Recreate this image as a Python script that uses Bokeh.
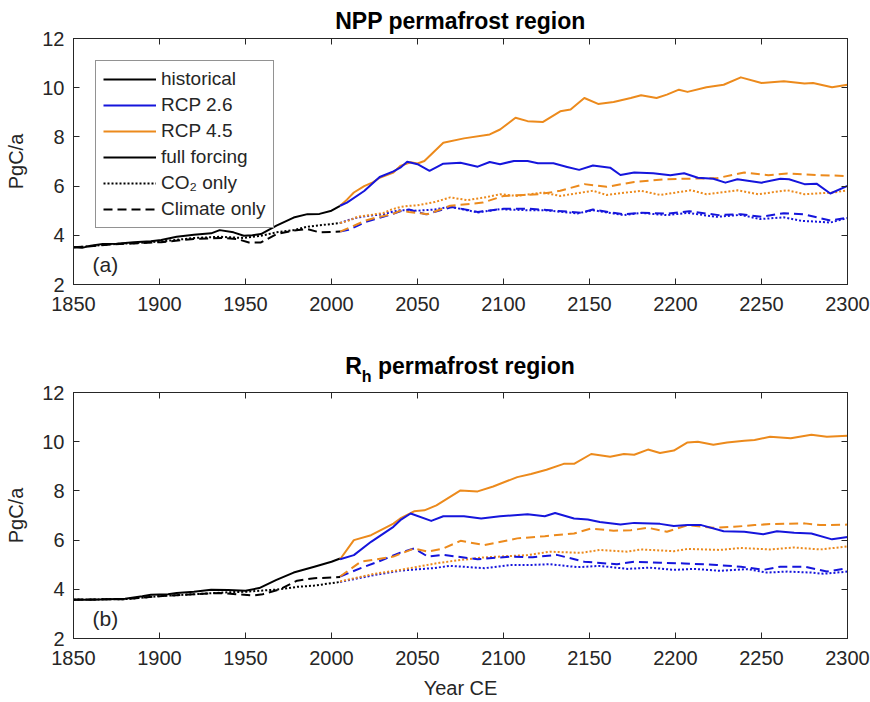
from bokeh.plotting import figure
from bokeh.models import Range1d, LinearAxis, Label, Legend, LegendItem, FixedTicker, Div
from bokeh.layouts import column
from bokeh.embed import file_html
from bokeh.resources import INLINE

# ---------------- data ----------------
x_ticks = [1850, 1900, 1950, 2000, 2050, 2100, 2150, 2200, 2250, 2300]
y_ticks = [2, 4, 6, 8, 10, 12]

# NPP (panel a) - historical
npp_hist_full_yr = [1850, 1855, 1860, 1867, 1875, 1885, 1895, 1901, 1910, 1920, 1930, 1935, 1943, 1949, 1954, 1959, 1968, 1978, 1986, 1993, 2000, 2005]
npp_hist_full = [3.51, 3.49, 3.58, 3.65, 3.66, 3.72, 3.76, 3.81, 3.94, 4.02, 4.08, 4.21, 4.12, 3.98, 4.0, 4.05, 4.39, 4.72, 4.86, 4.87, 5.0, 5.2]
npp_hist_co2_yr = [1850, 1860, 1870, 1885, 1901, 1920, 1935, 1949, 1959, 1968, 1978, 1986, 1995, 2005]
npp_hist_co2 = [3.51, 3.56, 3.63, 3.68, 3.75, 3.89, 3.94, 3.89, 3.98, 4.12, 4.21, 4.35, 4.42, 4.5]
npp_hist_clim_yr = [1850, 1860, 1870, 1885, 1901, 1920, 1937, 1945, 1952, 1959, 1968, 1978, 1986, 1993, 2005]
npp_hist_clim = [3.51, 3.55, 3.62, 3.67, 3.72, 3.85, 3.89, 3.85, 3.71, 3.71, 4.05, 4.19, 4.25, 4.12, 4.15]

# NPP - RCP 2.6
npp26_full_yr = [2005, 2009, 2019, 2028, 2036, 2040, 2044, 2050, 2057, 2065, 2075, 2085, 2092, 2098, 2106, 2114, 2120, 2129, 2137, 2144, 2152, 2162, 2168, 2176, 2187, 2197, 2205, 2213, 2222, 2229, 2236, 2246, 2250, 2261, 2266, 2275, 2282, 2290, 2300]
npp26_full = [5.2, 5.33, 5.8, 6.37, 6.6, 6.75, 6.99, 6.89, 6.62, 6.91, 6.95, 6.79, 6.98, 6.89, 7.02, 7.02, 6.93, 6.93, 6.78, 6.66, 6.84, 6.75, 6.45, 6.55, 6.52, 6.44, 6.52, 6.34, 6.3, 6.14, 6.28, 6.18, 6.14, 6.3, 6.28, 6.08, 6.1, 5.7, 6.01]
npp26_co2_yr = [2005, 2010, 2015, 2020, 2025, 2030, 2035, 2040, 2050, 2060, 2069, 2085, 2098, 2114, 2124, 2143, 2152, 2170, 2180, 2195, 2207, 2224, 2238, 2249, 2263, 2273, 2290, 2300]
npp26_co2 = [4.5, 4.62, 4.72, 4.78, 4.82, 4.85, 4.95, 5.02, 5.0, 5.05, 5.16, 4.93, 5.06, 5.02, 5.02, 4.89, 5.02, 4.82, 4.91, 4.82, 4.91, 4.75, 4.83, 4.66, 4.73, 4.59, 4.52, 4.7]
npp26_clim_yr = [2005, 2010, 2015, 2020, 2025, 2030, 2035, 2040, 2045, 2055, 2070, 2085, 2100, 2115, 2130, 2145, 2152, 2170, 2180, 2195, 2208, 2225, 2238, 2250, 2263, 2275, 2290, 2300]
npp26_clim = [4.15, 4.22, 4.38, 4.55, 4.65, 4.75, 4.85, 4.98, 5.05, 4.85, 5.15, 4.95, 5.08, 5.08, 5.0, 4.92, 5.05, 4.85, 4.92, 4.88, 4.98, 4.82, 4.86, 4.75, 4.9, 4.85, 4.6, 4.72]

# NPP - RCP 4.5
npp45_full_yr = [2005, 2009, 2013, 2019, 2024, 2028, 2036, 2040, 2046, 2050, 2054, 2065, 2077, 2092, 2098, 2107, 2114, 2123, 2133, 2139, 2147, 2155, 2164, 2174, 2180, 2189, 2195, 2202, 2207, 2218, 2228, 2238, 2250, 2263, 2275, 2280, 2291, 2300]
npp45_full = [5.2, 5.45, 5.74, 6.0, 6.15, 6.34, 6.55, 6.82, 6.97, 6.92, 7.02, 7.76, 7.94, 8.1, 8.3, 8.78, 8.64, 8.61, 9.04, 9.11, 9.58, 9.34, 9.42, 9.58, 9.69, 9.58, 9.72, 9.92, 9.83, 10.02, 10.12, 10.42, 10.19, 10.26, 10.17, 10.19, 10.02, 10.12]
npp45_co2_yr = [2005, 2010, 2015, 2020, 2025, 2030, 2035, 2040, 2045, 2050, 2060, 2069, 2079, 2090, 2098, 2108, 2123, 2133, 2152, 2160, 2180, 2191, 2209, 2218, 2236, 2248, 2265, 2275, 2292, 2300]
npp45_co2 = [4.5, 4.6, 4.75, 4.8, 4.85, 4.9, 5.05, 5.15, 5.2, 5.22, 5.35, 5.54, 5.43, 5.55, 5.67, 5.6, 5.74, 5.6, 5.81, 5.64, 5.81, 5.64, 5.83, 5.67, 5.83, 5.67, 5.83, 5.67, 5.74, 5.83]
npp45_clim_yr = [2005, 2010, 2015, 2020, 2025, 2030, 2035, 2040, 2045, 2056, 2069, 2088, 2100, 2121, 2133, 2147, 2160, 2176, 2195, 2207, 2224, 2240, 2254, 2265, 2282, 2300]
npp45_clim = [4.15, 4.3, 4.45, 4.6, 4.7, 4.78, 4.85, 5.0, 4.95, 4.86, 5.2, 5.33, 5.6, 5.67, 5.81, 6.08, 5.97, 6.17, 6.28, 6.3, 6.32, 6.55, 6.44, 6.51, 6.45, 6.41]

# Rh (panel b) - historical
rh_hist_full_yr = [1850, 1860, 1870, 1880, 1890, 1895, 1905, 1910, 1920, 1930, 1940, 1950, 1958, 1968, 1978, 1990, 2000, 2005]
rh_hist_full = [3.58, 3.58, 3.6, 3.62, 3.72, 3.78, 3.8, 3.85, 3.9, 3.98, 3.97, 3.94, 4.05, 4.38, 4.68, 4.92, 5.12, 5.25]
rh_hist_co2_yr = [1850, 1880, 1900, 1920, 1940, 1950, 1960, 1970, 1980, 1990, 2000, 2005]
rh_hist_co2 = [3.58, 3.6, 3.72, 3.8, 3.88, 3.9, 3.95, 4.0, 4.1, 4.15, 4.25, 4.3]
rh_hist_clim_yr = [1850, 1880, 1900, 1920, 1935, 1945, 1955, 1960, 1970, 1980, 1990, 2000, 2005]
rh_hist_clim = [3.58, 3.6, 3.72, 3.8, 3.85, 3.8, 3.75, 3.8, 4.0, 4.35, 4.45, 4.48, 4.5]

# Rh - RCP 2.6
rh26_full_yr = [2005, 2013, 2023, 2036, 2040, 2046, 2058, 2065, 2077, 2087, 2098, 2114, 2124, 2130, 2141, 2149, 2156, 2168, 2176, 2191, 2199, 2207, 2215, 2228, 2240, 2251, 2259, 2269, 2279, 2291, 2300]
rh26_full = [5.22, 5.39, 5.93, 6.54, 6.81, 7.08, 6.78, 6.97, 6.97, 6.88, 6.97, 7.05, 6.97, 7.1, 6.88, 6.84, 6.74, 6.63, 6.7, 6.66, 6.57, 6.61, 6.61, 6.36, 6.34, 6.24, 6.36, 6.3, 6.27, 6.03, 6.13]
rh26_co2_yr = [2005, 2025, 2040, 2059, 2069, 2089, 2104, 2117, 2127, 2143, 2156, 2172, 2185, 2199, 2211, 2226, 2242, 2253, 2265, 2279, 2286, 2300]
rh26_co2 = [4.3, 4.58, 4.76, 4.86, 4.95, 4.86, 4.99, 4.99, 5.02, 4.9, 4.95, 4.83, 4.88, 4.79, 4.83, 4.75, 4.82, 4.68, 4.72, 4.68, 4.63, 4.72]
rh26_clim_yr = [2005, 2017, 2027, 2040, 2048, 2056, 2065, 2085, 2104, 2117, 2131, 2147, 2166, 2176, 2191, 2205, 2224, 2238, 2251, 2261, 2275, 2288, 2300]
rh26_clim = [4.52, 4.86, 5.12, 5.49, 5.66, 5.33, 5.4, 5.22, 5.33, 5.3, 5.4, 5.12, 5.02, 5.12, 5.08, 5.05, 4.99, 4.92, 4.79, 4.92, 4.92, 4.72, 4.86]

# Rh - RCP 4.5
rh45_full_yr = [2005, 2013, 2023, 2036, 2040, 2048, 2054, 2061, 2075, 2085, 2094, 2108, 2116, 2125, 2135, 2141, 2151, 2162, 2170, 2176, 2184, 2191, 2199, 2207, 2213, 2222, 2230, 2240, 2246, 2255, 2267, 2279, 2288, 2300]
rh45_full = [5.22, 6.0, 6.2, 6.67, 6.88, 7.17, 7.21, 7.41, 8.02, 7.98, 8.18, 8.56, 8.69, 8.86, 9.1, 9.1, 9.5, 9.39, 9.5, 9.47, 9.68, 9.54, 9.64, 9.97, 10.0, 9.88, 9.97, 10.04, 10.07, 10.2, 10.14, 10.28, 10.2, 10.24]
rh45_co2_yr = [2005, 2025, 2040, 2063, 2075, 2089, 2114, 2127, 2145, 2156, 2172, 2180, 2199, 2207, 2226, 2238, 2255, 2269, 2284, 2300]
rh45_co2 = [4.32, 4.63, 4.79, 5.08, 5.19, 5.3, 5.39, 5.53, 5.48, 5.6, 5.53, 5.62, 5.55, 5.64, 5.6, 5.68, 5.62, 5.7, 5.62, 5.74]
rh45_clim_yr = [2005, 2017, 2036, 2048, 2056, 2065, 2075, 2089, 2108, 2124, 2141, 2151, 2164, 2174, 2184, 2195, 2207, 2222, 2234, 2246, 2255, 2275, 2284, 2300]
rh45_clim = [4.52, 5.12, 5.33, 5.66, 5.53, 5.66, 5.97, 5.8, 6.07, 6.16, 6.27, 6.47, 6.38, 6.4, 6.5, 6.34, 6.61, 6.5, 6.54, 6.61, 6.65, 6.68, 6.61, 6.63]

legend_labels = ["historical", "RCP 2.6", "RCP 4.5", "full forcing", "CO\u2082 only", "Climate only"]

# ---------------- style ----------------
BLUE = "#1515DC"
ORANGE = "#EC8A1C"
BLACK = "#000000"
AX = "#262626"
FONT = "Liberation Sans"
DOT = "2 2"
DASH = "9 5"
LW = 2


def style_axis(ax, ticks, labels=True, standoff=9):
    ax.ticker = FixedTicker(ticks=ticks)
    ax.axis_line_color = AX
    ax.major_tick_line_color = AX
    ax.major_tick_in = 6
    ax.major_tick_out = 0
    ax.minor_tick_line_color = None
    ax.major_label_text_font = FONT
    ax.major_label_text_font_size = "20px"
    ax.major_label_text_color = AX
    ax.major_label_standoff = standoff
    ax.axis_label_text_font = FONT
    ax.axis_label_text_font_size = "20px"
    ax.axis_label_text_font_style = "normal"
    ax.axis_label_text_color = AX
    ax.axis_label_standoff = 9
    if not labels:
        ax.major_label_text_color = None
        ax.major_label_text_font_size = "1px"
        ax.major_label_standoff = 0


def make_panel(height, top, bottom, series, xlabel=None):
    p = figure(width=870, height=height, x_range=Range1d(1850, 2300), y_range=Range1d(2, 12),
               output_backend="svg", toolbar_location=None,
               min_border_left=73, min_border_right=23, min_border_top=top, min_border_bottom=bottom)
    p.xgrid.visible = False
    p.ygrid.visible = False
    p.outline_line_color = AX
    p.background_fill_color = "white"
    p.border_fill_color = None
    p.add_layout(LinearAxis(), "right")
    p.add_layout(LinearAxis(), "above")
    for ax in p.below:
        style_axis(ax, x_ticks, True, 12)
    for ax in p.left:
        style_axis(ax, y_ticks, True, 9)
    for ax in p.above:
        style_axis(ax, x_ticks, False)
    for ax in p.right:
        style_axis(ax, y_ticks, False)
    p.left[0].axis_label = "PgC/a"
    p.left[0].axis_label_standoff = 12
    if xlabel:
        p.below[0].axis_label = xlabel
    r = {}
    (hf_x, hf_y), (hc_x, hc_y), (hd_x, hd_y), (f26x, f26y), (c26x, c26y), (d26x, d26y), (f45x, f45y), (c45x, c45y), (d45x, d45y) = series
    r["hist_co2"] = p.line(hc_x, hc_y, line_color=BLACK, line_width=LW, line_dash=DOT)
    r["hist_clim"] = p.line(hd_x, hd_y, line_color=BLACK, line_width=LW, line_dash=DASH)
    r["hist_full"] = p.line(hf_x, hf_y, line_color=BLACK, line_width=LW, line_join="round")
    p.line(c26x, c26y, line_color=BLUE, line_width=LW, line_dash=DOT)
    p.line(c45x, c45y, line_color=ORANGE, line_width=LW, line_dash=DOT)
    p.line(d26x, d26y, line_color=BLUE, line_width=LW, line_dash=DASH)
    p.line(d45x, d45y, line_color=ORANGE, line_width=LW, line_dash=DASH)
    r["f45"] = p.line(f45x, f45y, line_color=ORANGE, line_width=LW, line_join="round")
    r["f26"] = p.line(f26x, f26y, line_color=BLUE, line_width=LW, line_join="round")
    return p, r


p1, r1 = make_panel(330, 37, 46, [
    (npp_hist_full_yr, npp_hist_full), (npp_hist_co2_yr, npp_hist_co2), (npp_hist_clim_yr, npp_hist_clim),
    (npp26_full_yr, npp26_full), (npp26_co2_yr, npp26_co2), (npp26_clim_yr, npp26_clim),
    (npp45_full_yr, npp45_full), (npp45_co2_yr, npp45_co2), (npp45_clim_yr, npp45_clim)])
p1.title.text = "NPP permafrost region"
p1.title.align = "center"
p1.title.text_font = FONT
p1.title.text_font_size = "23px"
p1.title.text_font_style = "bold"
p1.title.text_color = "#000000"

# bottom panel title (with subscript) as real HTML text
title2 = Div(
    text=('<div style="display:block;width:774px;font-family:\'Liberation Sans\',Arial,sans-serif;font-weight:bold;'
          'font-size:23px;line-height:23px;color:#000;text-align:center;padding-top:25px;white-space:nowrap;">'
          'R<span style="font-size:16px;position:relative;top:8px;">h</span> permafrost region</div>'),
    width=774, height=44, margin=(0, 23, 0, 73), styles={"overflow": "visible", "z-index": "5"})

p2, r2 = make_panel(328, 18, 64, [
    (rh_hist_full_yr, rh_hist_full), (rh_hist_co2_yr, rh_hist_co2), (rh_hist_clim_yr, rh_hist_clim),
    (rh26_full_yr, rh26_full), (rh26_co2_yr, rh26_co2), (rh26_clim_yr, rh26_clim),
    (rh45_full_yr, rh45_full), (rh45_co2_yr, rh45_co2), (rh45_clim_yr, rh45_clim)], xlabel="Year CE")

for p, t in ((p1, "(a)"), (p2, "(b)")):
    p.add_layout(Label(x=19, y=20, x_units="screen", y_units="screen", text=t,
                       text_font=FONT, text_font_size="21px", text_baseline="middle",
                       text_color=AX))

legend = Legend(items=[
    LegendItem(label=legend_labels[0], renderers=[r1["hist_full"]]),
    LegendItem(label=legend_labels[1], renderers=[r1["f26"]]),
    LegendItem(label=legend_labels[2], renderers=[r1["f45"]]),
    LegendItem(label=legend_labels[3], renderers=[r1["hist_full"]]),
    LegendItem(label=legend_labels[4], renderers=[r1["hist_co2"]]),
    LegendItem(label=legend_labels[5], renderers=[r1["hist_clim"]]),
], location="top_left")
legend.margin = 22
legend.padding = 7
legend.spacing = 4
legend.glyph_width = 53
legend.glyph_height = 18
legend.label_height = 18
legend.label_standoff = 5
legend.label_text_font = FONT
legend.label_text_font_size = "19px"
legend.label_text_color = AX
legend.border_line_color = AX
legend.border_line_width = 1
legend.background_fill_alpha = 1
p1.add_layout(legend)

layout = column(p1, title2, p2, spacing=0, styles={"background-color": "white"})
open("out.html", "w").write(file_html(layout, INLINE))
